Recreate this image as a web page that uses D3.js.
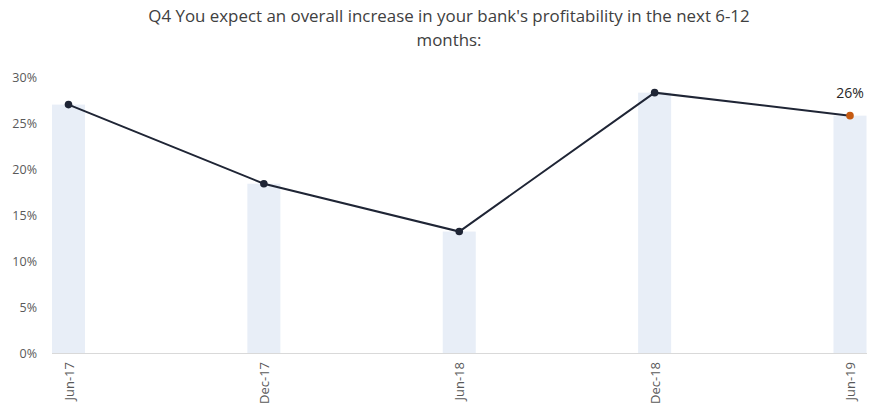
<!DOCTYPE html>
<html><head><meta charset="utf-8">
<script src="https://cdn.jsdelivr.net/npm/d3@7"></script>
<style>body{margin:0;background:#fff}svg{display:block}</style>
</head><body>
<svg id="c" width="869" height="407"></svg>
<script>
const categories = ["Jun-17","Dec-17","Jun-18","Dec-18","Jun-19"];
const values = [0.27, 0.184, 0.132, 0.283, 0.258];
const yTicks = [0,0.05,0.10,0.15,0.20,0.25,0.30];
const titleLines = ["Q4 You expect an overall increase in your bank's profitability in the next 6-12","months:"];
const lastLabel = "26%";

const svg = d3.select("#c");
const x = d3.scalePoint().domain(categories).range([68.5, 850]);
const y = d3.scaleLinear().domain([0,0.30]).range([353, 77]);
const barW = 33;
const font = "'Open Sans', sans-serif";

// title
const tt = svg.append("g").selectAll("text").data(titleLines).join("text")
  .attr("x", 449).attr("y", (d,i)=>22+i*24)
  .attr("text-anchor","middle").attr("fill","#404040")
  .style("font-family", font).style("font-size","15px")
  .text(d=>d);
const w0 = tt.nodes()[0].getComputedTextLength();
const fs = 15 * 602 / w0;
tt.style("font-size", fs + "px");

// bars
svg.append("g").selectAll("rect").data(values).join("rect")
  .attr("x",(d,i)=>x(categories[i])-barW/2).attr("width",barW)
  .attr("y",d=>y(d)).attr("height",d=>y(0)-y(d))
  .attr("fill","#e8eef7");

// y axis
const ya = d3.axisLeft(y).tickValues(yTicks).tickFormat(d3.format(".0%")).tickSize(0).tickPadding(0);
const yg = svg.append("g").attr("transform","translate(37,0)").call(ya);
yg.select(".domain").remove();
yg.selectAll("text").attr("fill","#595959").style("font-family",font).style("font-size","12.5px");

// x axis
const xa = d3.axisBottom(x).tickSize(0).tickPadding(0);
const xg = svg.append("g").attr("transform",`translate(0,${y(0)})`).call(xa);
xg.select(".domain").remove();
xg.append("line").attr("x1",52).attr("x2",867).attr("y1",0.5).attr("y2",0.5).attr("stroke","#d9d9d9").attr("stroke-width",1.2);
xg.selectAll(".tick text")
  .attr("transform","rotate(-90)").attr("text-anchor","end")
  .attr("x",-9).attr("y",0).attr("dy","0.35em")
  .attr("fill","#595959").style("font-family",font).style("font-size","13px");

// line
const line = d3.line().x((d,i)=>x(categories[i])).y(d=>y(d));
svg.append("path").datum(values).attr("d",line)
  .attr("fill","none").attr("stroke","#1f2535").attr("stroke-width",2);

svg.append("g").selectAll("circle").data(values).join("circle")
  .attr("cx",(d,i)=>x(categories[i])).attr("cy",d=>y(d)).attr("r",3.8)
  .attr("fill",(d,i)=>i===values.length-1?"#c55a11":"#1f2535");

// last label
svg.append("text").attr("x",x(categories[4])).attr("y",y(values[4])-18)
  .attr("text-anchor","middle").attr("fill","#262626")
  .style("font-family",font).style("font-size","14px").text(lastLabel);
</script>
</body></html>
